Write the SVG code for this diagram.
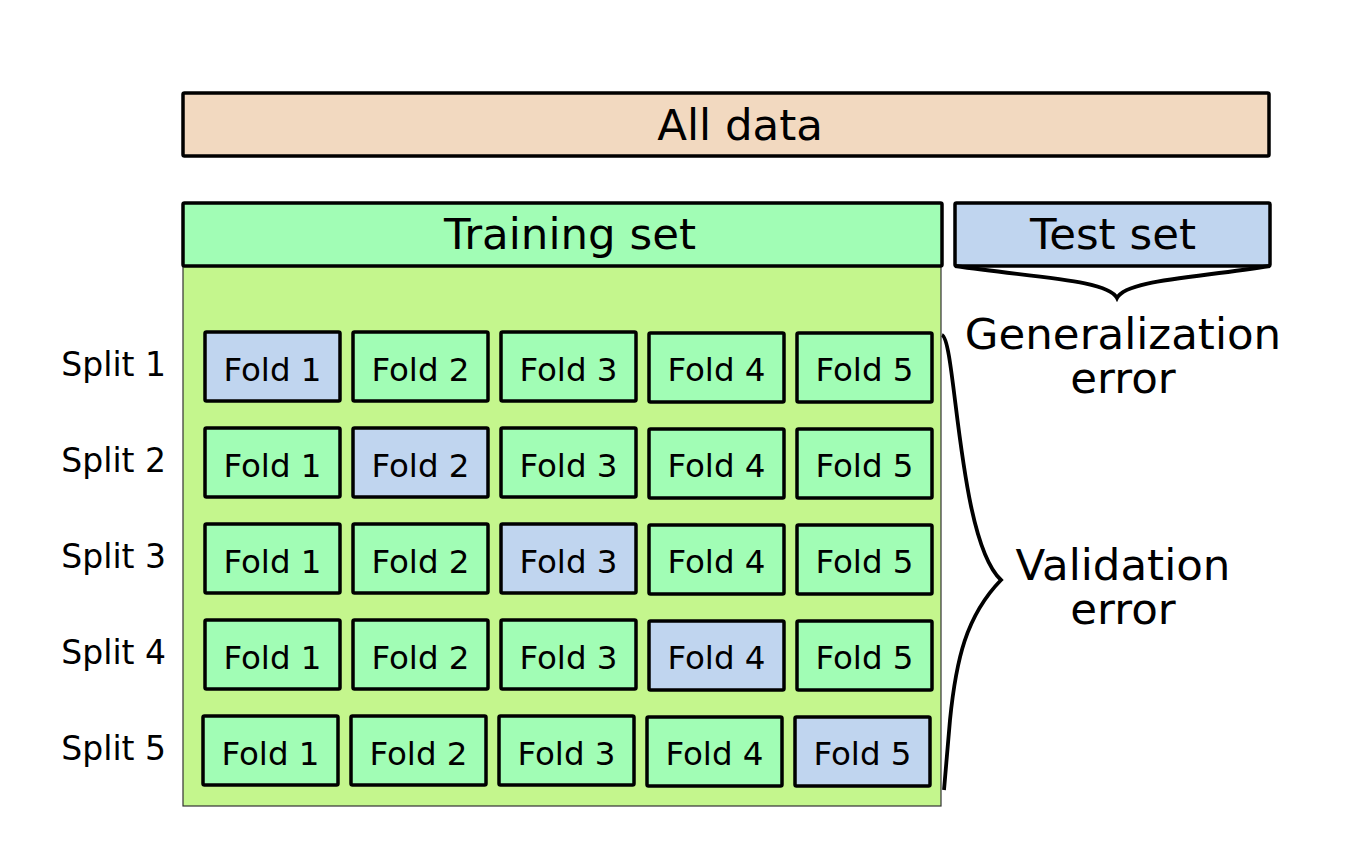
<svg xmlns="http://www.w3.org/2000/svg" width="1372" height="851" viewBox="0 0 1372 851">
<style>
text{font-family:"DejaVu Sans","Noto Sans",sans-serif;fill:#000}
.big{font-size:43.5px;text-anchor:middle}
.fold{font-size:32.5px;text-anchor:middle}
.split{font-size:33px;text-anchor:end}
.box{stroke:#000;stroke-width:3.5}
.tr{fill:#a1fdb5}
.te{fill:#c0d5ef}
.brace{fill:none;stroke:#000;stroke-width:3.8}
</style>
<rect width="1372" height="851" fill="#fff"/>
<g id="all-data"><rect class="box" x="183" y="93" width="1086" height="63" rx="1.5" fill="#f2d9c0"/><text class="big" x="740" y="140">All data</text></g>
<g id="training-area"><rect x="183" y="266" width="758" height="540" fill="#c4f68d" stroke="#333" stroke-width="1.2"/></g>
<g id="training-set"><rect class="box tr" x="183" y="203" width="759" height="63" rx="1.5"/><text class="big" x="570" y="249">Training set</text></g>
<g id="test-set"><rect class="box te" x="955" y="203" width="315" height="63" rx="1.5"/><text class="big" x="1113" y="249">Test set</text></g>
<g id="split-labels">
<text class="split" x="166" y="376">Split 1</text>
<text class="split" x="166" y="472">Split 2</text>
<text class="split" x="166" y="568">Split 3</text>
<text class="split" x="166" y="664">Split 4</text>
<text class="split" x="166" y="760">Split 5</text>
</g>
<g id="row1">
<rect class="box te" x="205" y="332" width="135" height="69" rx="1.5"/><text class="fold" x="272.5" y="381">Fold 1</text>
<rect class="box tr" x="353" y="332" width="135" height="69" rx="1.5"/><text class="fold" x="420.5" y="381">Fold 2</text>
<rect class="box tr" x="501" y="332" width="135" height="69" rx="1.5"/><text class="fold" x="568.5" y="381">Fold 3</text>
<rect class="box tr" x="649" y="333" width="135" height="69" rx="1.5"/><text class="fold" x="716.5" y="381">Fold 4</text>
<rect class="box tr" x="797" y="333" width="135" height="69" rx="1.5"/><text class="fold" x="864.5" y="381">Fold 5</text>
</g>
<g id="row2">
<rect class="box tr" x="205" y="428" width="135" height="69" rx="1.5"/><text class="fold" x="272.5" y="477">Fold 1</text>
<rect class="box te" x="353" y="428" width="135" height="69" rx="1.5"/><text class="fold" x="420.5" y="477">Fold 2</text>
<rect class="box tr" x="501" y="428" width="135" height="69" rx="1.5"/><text class="fold" x="568.5" y="477">Fold 3</text>
<rect class="box tr" x="649" y="429" width="135" height="69" rx="1.5"/><text class="fold" x="716.5" y="477">Fold 4</text>
<rect class="box tr" x="797" y="429" width="135" height="69" rx="1.5"/><text class="fold" x="864.5" y="477">Fold 5</text>
</g>
<g id="row3">
<rect class="box tr" x="205" y="524" width="135" height="69" rx="1.5"/><text class="fold" x="272.5" y="573">Fold 1</text>
<rect class="box tr" x="353" y="524" width="135" height="69" rx="1.5"/><text class="fold" x="420.5" y="573">Fold 2</text>
<rect class="box te" x="501" y="524" width="135" height="69" rx="1.5"/><text class="fold" x="568.5" y="573">Fold 3</text>
<rect class="box tr" x="649" y="525" width="135" height="69" rx="1.5"/><text class="fold" x="716.5" y="573">Fold 4</text>
<rect class="box tr" x="797" y="525" width="135" height="69" rx="1.5"/><text class="fold" x="864.5" y="573">Fold 5</text>
</g>
<g id="row4">
<rect class="box tr" x="205" y="620" width="135" height="69" rx="1.5"/><text class="fold" x="272.5" y="669">Fold 1</text>
<rect class="box tr" x="353" y="620" width="135" height="69" rx="1.5"/><text class="fold" x="420.5" y="669">Fold 2</text>
<rect class="box tr" x="501" y="620" width="135" height="69" rx="1.5"/><text class="fold" x="568.5" y="669">Fold 3</text>
<rect class="box te" x="649" y="621" width="135" height="69" rx="1.5"/><text class="fold" x="716.5" y="669">Fold 4</text>
<rect class="box tr" x="797" y="621" width="135" height="69" rx="1.5"/><text class="fold" x="864.5" y="669">Fold 5</text>
</g>
<g id="row5">
<rect class="box tr" x="203" y="716" width="135" height="69" rx="1.5"/><text class="fold" x="270.5" y="765">Fold 1</text>
<rect class="box tr" x="351" y="716" width="135" height="69" rx="1.5"/><text class="fold" x="418.5" y="765">Fold 2</text>
<rect class="box tr" x="499" y="716" width="135" height="69" rx="1.5"/><text class="fold" x="566.5" y="765">Fold 3</text>
<rect class="box tr" x="647" y="717" width="135" height="69" rx="1.5"/><text class="fold" x="714.5" y="765">Fold 4</text>
<rect class="box te" x="795" y="717" width="135" height="69" rx="1.5"/><text class="fold" x="862.5" y="765">Fold 5</text>
</g>
<g id="connectors">
<path class="brace" d="M955,266 C1040,278 1108,280 1117,298 C1126,280 1194,278 1270,266"/>
<path class="brace" d="M942,335 C956,340 958,540 1001,580 C966,616 956,660 950,720 L944,790"/>
</g>
<g id="generalization-error"><text class="big" x="1123" y="349">Generalization</text><text class="big" x="1123" y="393">error</text></g>
<g id="validation-error"><text class="big" x="1123" y="580">Validation</text><text class="big" x="1123" y="624">error</text></g>
</svg>
